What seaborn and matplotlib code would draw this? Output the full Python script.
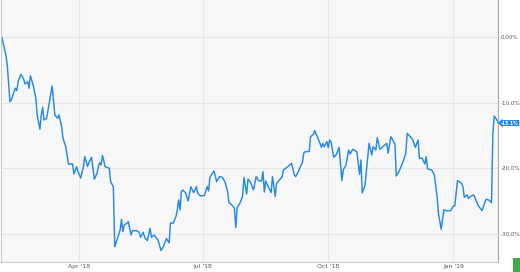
import matplotlib
matplotlib.use("Agg")
import matplotlib.pyplot as plt
import matplotlib.dates as mdates
import matplotlib.transforms as mtransforms
from matplotlib.patches import Rectangle
import pandas as pd
import seaborn as sns

dates = [
    "2018-02-03", "2018-02-06", "2018-02-07", "2018-02-09", "2018-02-10", "2018-02-12",
    "2018-02-13", "2018-02-14", "2018-02-15", "2018-02-17", "2018-02-19", "2018-02-20",
    "2018-02-22", "2018-02-23", "2018-02-24", "2018-02-26", "2018-02-28", "2018-03-01",
    "2018-03-03", "2018-03-04", "2018-03-05", "2018-03-06", "2018-03-08", "2018-03-10",
    "2018-03-12", "2018-03-14", "2018-03-16", "2018-03-17", "2018-03-19", "2018-03-20",
    "2018-03-22", "2018-03-24", "2018-03-27", "2018-03-28", "2018-03-30", "2018-03-31",
    "2018-04-02", "2018-04-04", "2018-04-05", "2018-04-07", "2018-04-08", "2018-04-10",
    "2018-04-12", "2018-04-14", "2018-04-15", "2018-04-16", "2018-04-17", "2018-04-18",
    "2018-04-20", "2018-04-23", "2018-04-24", "2018-04-26", "2018-04-27", "2018-04-29",
    "2018-05-01", "2018-05-02", "2018-05-03", "2018-05-04", "2018-05-06", "2018-05-07",
    "2018-05-09", "2018-05-10", "2018-05-13", "2018-05-15", "2018-05-16", "2018-05-18",
    "2018-05-19", "2018-05-21", "2018-05-23", "2018-05-24", "2018-05-26", "2018-05-29",
    "2018-05-31", "2018-06-02", "2018-06-04", "2018-06-06", "2018-06-07", "2018-06-09",
    "2018-06-11", "2018-06-12", "2018-06-13", "2018-06-14", "2018-06-15", "2018-06-16",
    "2018-06-18", "2018-06-20", "2018-06-22", "2018-06-24", "2018-06-26", "2018-06-27",
    "2018-06-29", "2018-07-02", "2018-07-04", "2018-07-05", "2018-07-06", "2018-07-09",
    "2018-07-11", "2018-07-13", "2018-07-15", "2018-07-17", "2018-07-19", "2018-07-20",
    "2018-07-22", "2018-07-24", "2018-07-25", "2018-07-26", "2018-07-28", "2018-07-30",
    "2018-07-31", "2018-08-02", "2018-08-03", "2018-08-05", "2018-08-07", "2018-08-09",
    "2018-08-11", "2018-08-13", "2018-08-14", "2018-08-15", "2018-08-16", "2018-08-18",
    "2018-08-20", "2018-08-21", "2018-08-23", "2018-08-24", "2018-08-26", "2018-08-28",
    "2018-08-29", "2018-09-01", "2018-09-04", "2018-09-06", "2018-09-07", "2018-09-09",
    "2018-09-11", "2018-09-12", "2018-09-13", "2018-09-14", "2018-09-17", "2018-09-18",
    "2018-09-20", "2018-09-21", "2018-09-23", "2018-09-26", "2018-09-27", "2018-09-28",
    "2018-09-30", "2018-10-01", "2018-10-02", "2018-10-03", "2018-10-05", "2018-10-07",
    "2018-10-09", "2018-10-11", "2018-10-12", "2018-10-14", "2018-10-16", "2018-10-17",
    "2018-10-19", "2018-10-22", "2018-10-24", "2018-10-25", "2018-10-26", "2018-10-28",
    "2018-10-30", "2018-10-31", "2018-11-02", "2018-11-03", "2018-11-05", "2018-11-06",
    "2018-11-08", "2018-11-13", "2018-11-14", "2018-11-16", "2018-11-19", "2018-11-20",
    "2018-11-22", "2018-11-25", "2018-11-27", "2018-11-28", "2018-12-02", "2018-12-04",
    "2018-12-06", "2018-12-07", "2018-12-09", "2018-12-11", "2018-12-12", "2018-12-13",
    "2018-12-16", "2018-12-18", "2018-12-20", "2018-12-21", "2018-12-23", "2018-12-25",
    "2018-12-27", "2018-12-30", "2019-01-01", "2019-01-02", "2019-01-04", "2019-01-07",
    "2019-01-08", "2019-01-09", "2019-01-11", "2019-01-12", "2019-01-14", "2019-01-16",
    "2019-01-17", "2019-01-19", "2019-01-22", "2019-01-25", "2019-01-27", "2019-01-29",
    "2019-01-30", "2019-01-31", "2019-02-02", "2019-02-03",
]

change_pct = [
    0.00, -2.74, -4.26, -9.85, -9.59, -8.33,
    -7.81, -8.17, -6.80, -5.68, -6.39, -7.15,
    -6.80, -7.81, -5.89, -7.31, -9.33, -11.87,
    -14.05, -11.87, -10.70, -12.63, -12.37, -9.85,
    -7.46, -11.87, -12.37, -11.87, -13.65, -15.42,
    -16.70, -19.33, -19.33, -20.85, -19.74, -20.50,
    -21.46, -19.74, -18.19, -19.71, -19.13, -18.31,
    -21.66, -20.75, -19.74, -19.13, -19.48, -18.01,
    -19.74, -19.98, -22.02, -22.79, -31.92, -30.64,
    -29.38, -27.75, -29.63, -28.61, -28.36, -28.11,
    -30.14, -29.48, -29.48, -29.73, -30.49, -29.73,
    -30.49, -31.00, -29.12, -30.49, -30.14, -31.00,
    -32.50, -31.81, -30.67, -31.35, -28.31, -28.36,
    -27.35, -26.33, -24.81, -26.33, -23.55, -23.29,
    -23.70, -24.96, -22.79, -23.70, -22.79, -23.79,
    -24.20, -24.12, -22.75, -23.44, -21.35, -20.40,
    -22.02, -21.26, -21.35, -22.02, -23.55, -25.22,
    -25.57, -26.07, -28.99, -26.03, -25.31, -24.28,
    -21.39, -23.90, -21.61, -22.18, -23.29, -21.26,
    -21.92, -21.92, -20.50, -23.59, -21.92, -22.83,
    -23.67, -21.26, -24.28, -22.30, -21.77, -21.35,
    -20.24, -19.79, -19.22, -21.00, -21.26, -20.50,
    -19.48, -19.13, -17.66, -17.46, -17.43, -15.18,
    -14.81, -14.26, -15.18, -16.79, -16.18, -16.70,
    -15.94, -16.85, -15.68, -15.94, -18.31, -17.85,
    -16.79, -21.87, -20.24, -19.48, -17.20, -17.81,
    -17.09, -17.46, -20.90, -18.72, -23.74, -22.60,
    -18.22, -16.18, -17.96, -16.70, -17.20, -15.33,
    -17.09, -16.18, -17.70, -15.18, -16.29, -21.16,
    -20.50, -18.98, -17.70, -14.66, -15.57, -16.79,
    -15.68, -18.46, -18.46, -19.33, -18.22, -20.09,
    -20.24, -21.00, -24.31, -26.83, -29.27, -26.33,
    -26.44, -26.44, -25.72, -25.72, -21.87, -22.27,
    -22.79, -24.40, -24.05, -24.55, -24.20, -24.05,
    -24.55, -25.57, -26.44, -24.70, -24.81, -25.22,
    -14.66, -12.02, -12.63, -13.10,
]

x_tick_dates = ["2018-04-01", "2018-07-01", "2018-10-01", "2019-01-01"]
x_tick_labels = ["Apr '18", "Jul '18", "Oct '18", "Jan '19"]
y_ticks = [0, -10, -20, -30]
y_tick_labels = ["0.00%", "-10.0%", "-20.0%", "-30.0%"]
last_label = "-13.1%"

sns.set_theme(style="white")
plt.rcParams["font.family"] = ["DejaVu Sans"]

df = pd.DataFrame({"date": pd.to_datetime(dates), "change": change_pct})

fig = plt.figure(figsize=(5.2, 2.72), dpi=100)
ax = fig.add_axes([1 / 520, 10 / 272, 497.3 / 520, 262 / 272])
ax.set_facecolor("#f7f7f7")

line_color = "#2589e8"
sns.lineplot(data=df, x="date", y="change", ax=ax, estimator=None, sort=False,
             color=line_color, linewidth=1.05)

ax.set_xlim(df["date"].iloc[0] - pd.Timedelta(days=0.6), df["date"].iloc[-1])
ax.set_ylim(-34.25, 5.63)

ax.set_xticks(mdates.date2num(pd.to_datetime(x_tick_dates)))
ax.set_xticklabels(x_tick_labels)
ax.yaxis.tick_right()
ax.set_yticks(y_ticks)
ax.set_yticklabels(y_tick_labels)
ax.tick_params(axis="both", length=0, labelsize=4.1, colors="#555555")
ax.tick_params(axis="x", pad=1.2, labelsize=4.4)
ax.tick_params(axis="y", pad=1.6)
ax.set_xlabel("")
ax.set_ylabel("")

ax.grid(True, color="#e7e7e7", linewidth=0.8)
ax.set_axisbelow(True)

ax.spines["top"].set_visible(False)
ax.spines["left"].set_color("#c8c8c8")
ax.spines["bottom"].set_color("#c8c8c8")
ax.spines["right"].set_color("#a8a8a8")
for s in ["left", "bottom", "right"]:
    ax.spines[s].set_linewidth(0.8)

trans = mtransforms.blended_transform_factory(ax.transAxes, ax.transData)
ax.annotate(last_label, xy=(1.0, change_pct[-1]), xycoords=trans,
            xytext=(2.0, 0), textcoords="offset points", ha="left", va="center",
            fontsize=3.3, color="white", fontweight="bold",
            bbox=dict(boxstyle="larrow,pad=0.1", fc="#1f86e0", ec="none"),
            annotation_clip=False)

fig.patches.append(Rectangle((513 / 520, 0), 7 / 520, 14 / 272, transform=fig.transFigure,
                             facecolor="#3fae49", edgecolor="none"))

fig.savefig("out.png", dpi=100)
